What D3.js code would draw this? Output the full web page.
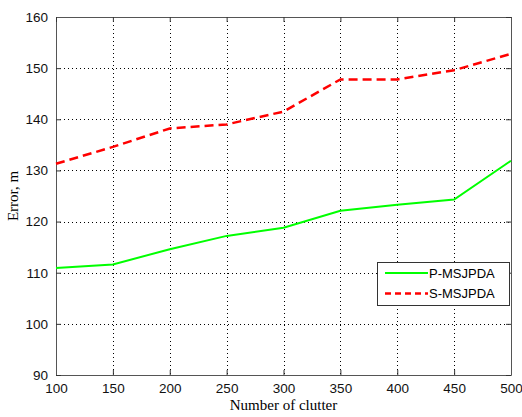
<!DOCTYPE html>
<html>
<head>
<meta charset="utf-8">
<script src="https://cdn.jsdelivr.net/npm/d3@7"></script>
<style>
  body { margin: 0; background: #fff; }
  svg { display: block; }
</style>
</head>
<body>
<svg id="chart" width="522" height="417"></svg>
<script>
// data
const clutter = [100, 150, 200, 250, 300, 350, 400, 450, 500];
const pMsjpda = [110.9, 111.6, 114.6, 117.2, 118.8, 122.1, 123.3, 124.3, 131.9];
const sMsjpda = [131.3, 134.6, 138.2, 139.0, 141.5, 147.8, 147.8, 149.6, 152.8];
const xTicks = [100, 150, 200, 250, 300, 350, 400, 450, 500];
const yTicks = [90, 100, 110, 120, 130, 140, 150, 160];
const seriesNames = ["P-MSJPDA", "S-MSJPDA"];

let plotLeft = 56, plotTop = 17, plotRight = 511, plotBottom = 375;

let svg = d3.select("#chart");

let xScale = d3.scaleLinear().domain([100, 500]).range([plotLeft, plotRight]);
let yScale = d3.scaleLinear().domain([90, 160]).range([plotBottom, plotTop]);

// grid
let grid = svg.append("g");
grid.selectAll(".gx").data(xTicks.slice(1, -1)).enter().append("line")
    .attr("x1", d => Math.round(xScale(d)) + 0.5).attr("x2", d => Math.round(xScale(d)) + 0.5)
    .attr("y1", plotTop).attr("y2", plotBottom)
    .attr("stroke", "#000").attr("stroke-dasharray", "1,3");
grid.selectAll(".gy").data(yTicks.slice(1, -1)).enter().append("line")
    .attr("y1", d => Math.round(yScale(d)) + 0.5).attr("y2", d => Math.round(yScale(d)) + 0.5)
    .attr("x1", plotLeft).attr("x2", plotRight)
    .attr("stroke", "#000").attr("stroke-dasharray", "1,3");

// axes (MATLAB style, inward ticks on all sides)
let xAxis = d3.axisBottom(xScale).tickValues(xTicks).tickSizeInner(-5).tickSizeOuter(0).tickPadding(8);
let yAxis = d3.axisLeft(yScale).tickValues(yTicks).tickSizeInner(-5).tickSizeOuter(0).tickPadding(8);
let xTop = d3.axisTop(xScale).tickValues(xTicks).tickSizeInner(-5).tickSizeOuter(0).tickFormat("");
let yRight = d3.axisRight(yScale).tickValues(yTicks).tickSizeInner(-5).tickSizeOuter(0).tickFormat("");

svg.append("g").attr("transform", "translate(0," + plotBottom + ")").call(xAxis);
svg.append("g").attr("transform", "translate(" + plotLeft + ",0)").call(yAxis);
svg.append("g").attr("transform", "translate(0," + plotTop + ")").call(xTop);
svg.append("g").attr("transform", "translate(" + plotRight + ",0)").call(yRight);

svg.selectAll(".domain").attr("stroke", "#555");
svg.selectAll(".tick line").attr("stroke", "#333");
svg.selectAll(".tick text")
    .attr("font-family", "Liberation Sans, Arial, sans-serif")
    .attr("font-size", 13.5).attr("fill", "#111");

// lines
let line = d3.line().x((d, i) => xScale(clutter[i])).y(d => yScale(d));

svg.append("path").datum(pMsjpda)
    .attr("d", line).attr("fill", "none")
    .attr("stroke", "#00ff00").attr("stroke-width", 2);
svg.append("path").datum(sMsjpda)
    .attr("d", line).attr("fill", "none")
    .attr("stroke", "#ff0000").attr("stroke-width", 2.5)
    .attr("stroke-dasharray", "9,5");

// axis labels
svg.append("text").attr("x", (plotLeft + plotRight) / 2).attr("y", 410)
    .attr("text-anchor", "middle")
    .attr("font-family", "Liberation Serif, Times New Roman, serif").attr("font-size", 15)
    .text("Number of clutter");
svg.append("text").attr("transform", "translate(18," + (plotTop + plotBottom) / 2 + ") rotate(-90)")
    .attr("text-anchor", "middle")
    .attr("font-family", "Liberation Serif, Times New Roman, serif").attr("font-size", 15)
    .text("Error, m");

// legend
let lg = svg.append("g");
lg.append("rect").attr("x", 377.5).attr("y", 262.5).attr("width", 132).attr("height", 43)
    .attr("fill", "#fff").attr("stroke", "#333");
let styles = [{c: "#00ff00", w: 2, dash: null}, {c: "#ff0000", w: 2.5, dash: "6,4"}];
seriesNames.forEach(function (name, i) {
    let y = 273 + i * 20.5;
    lg.append("line").attr("x1", 385).attr("x2", 428).attr("y1", y).attr("y2", y)
        .attr("stroke", styles[i].c).attr("stroke-width", styles[i].w)
        .attr("stroke-dasharray", styles[i].dash);
    lg.append("text").attr("x", 429).attr("y", y).attr("dy", "0.35em")
        .attr("font-family", "Liberation Sans, Arial, sans-serif").attr("font-size", 13)
        .text(name);
});
</script>
</body>
</html>
